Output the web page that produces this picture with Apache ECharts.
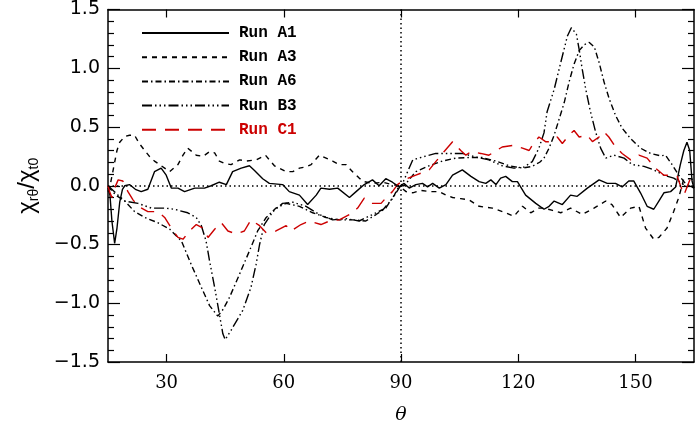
<!DOCTYPE html>
<html>
<head>
<meta charset="utf-8">
<script src="https://cdn.jsdelivr.net/npm/echarts@6/dist/echarts.min.js"></script>
<style>html,body{margin:0;padding:0;background:#fff}#chart{width:695px;height:430px}</style>
</head>
<body>
<div id="chart"></div>
<script>
// theta grid and values for each run
var xTicks = [30, 60, 90, 120, 150];

var thetaA1 = [15.0,15.5,16.0,16.7,17.3,18.0,18.7,19.3,20.5,22.0,23.5,25.2,26.9,28.6,29.9,31.2,32.9,34.6,37.2,39.7,41.4,43.5,45.3,46.9,49.1,51.2,52.5,54.6,56.3,59.7,61.4,64.0,66.1,68.3,69.5,71.7,73.8,76.8,78.5,80.6,82.7,84.4,86.1,87.8,89.5,90.8,92.1,93.8,95.5,96.8,98.1,99.8,101.5,103.2,105.7,107.9,110.0,111.7,113.0,114.3,115.5,116.8,118.5,119.8,121.9,124.5,126.6,127.9,129.2,131.3,133.4,135.1,137.7,140.7,142.8,144.9,146.6,148.3,149.6,151.3,153.0,154.7,156.0,157.3,159.0,160.3,161.5,162.4,163.2,163.9,164.5,165.0];
var valA1 = [-0.02,-0.08,-0.30,-0.49,-0.36,-0.14,-0.03,0.00,0.01,-0.03,-0.05,-0.03,0.12,0.15,0.09,-0.02,-0.02,-0.05,-0.02,-0.02,0.00,0.03,0.01,0.12,0.15,0.17,0.13,0.06,0.02,0.01,-0.05,-0.08,-0.16,-0.08,-0.02,-0.03,-0.02,-0.10,-0.05,0.01,0.05,0.00,0.06,0.03,-0.01,0.02,-0.02,0.01,0.02,-0.01,0.02,-0.02,0.01,0.09,0.135,0.08,0.035,0.02,0.05,0.01,0.065,0.08,0.035,0.035,-0.08,-0.15,-0.20,-0.175,-0.13,-0.16,-0.08,-0.09,-0.02,0.05,0.02,0.02,-0.01,0.04,0.04,-0.06,-0.175,-0.20,-0.13,-0.06,-0.05,-0.01,0.18,0.30,0.37,0.30,0.04,-0.02];

var thetaA3 = [15.0,15.4,16.0,16.7,17.3,18.0,19.3,20.5,21.8,23.0,24.4,25.6,26.9,28.2,29.5,30.8,32.9,34.2,35.4,37.6,39.3,41.0,42.3,43.5,44.8,46.5,48.7,50.5,52.9,55.3,57.6,60.6,62.3,64.0,65.7,67.0,69.1,72.5,74.2,75.9,77.6,79.3,80.5,82.7,85.3,87.8,89.5,91.3,93.0,95.0,97.5,99.8,101.5,103.2,105.3,107.4,110.0,113.4,116.8,118.9,121.1,123.2,125.3,126.6,128.8,130.9,133.4,136.4,139.4,142.4,144.0,146.2,148.8,150.9,152.6,154.7,156.0,158.1,159.8,161.1,162.4,164.1,165.0];
var valA3 = [-0.05,-0.02,0.08,0.20,0.30,0.37,0.42,0.43,0.43,0.36,0.30,0.25,0.21,0.18,0.15,0.12,0.18,0.26,0.32,0.26,0.25,0.29,0.28,0.21,0.19,0.18,0.22,0.21,0.22,0.26,0.17,0.12,0.12,0.15,0.16,0.18,0.26,0.21,0.18,0.18,0.12,0.065,0.035,0.02,0.03,0.01,0.00,-0.05,-0.06,-0.04,-0.05,-0.05,-0.08,-0.10,-0.11,-0.12,-0.175,-0.19,-0.23,-0.26,-0.175,-0.23,-0.19,-0.19,-0.21,-0.23,-0.19,-0.245,-0.19,-0.13,-0.16,-0.27,-0.19,-0.175,-0.36,-0.455,-0.44,-0.36,-0.22,-0.10,0.06,0.06,0.05];

var thetaA6 = [15.0,15.4,17.0,19.3,21.8,24.4,27.8,30.8,33.8,36.3,38.9,41.0,43.1,44.5,46.1,48.7,51.2,53.3,55.5,58.0,60.6,64.0,67.4,70.8,74.2,77.6,81.0,83.6,86.1,88.3,89.5,90.8,93.8,97.2,100.6,104.0,107.4,110.8,114.3,117.7,121.1,123.6,125.5,126.6,127.9,129.2,130.5,131.8,133.0,134.3,135.6,136.9,138.2,139.5,140.7,142.0,143.3,144.9,146.6,148.8,151.3,153.9,156.4,157.7,159.4,161.1,162.8,164.4,165.0];
var valA6 = [0.00,-0.02,-0.08,-0.13,-0.22,-0.27,-0.315,-0.37,-0.47,-0.67,-0.865,-1.02,-1.11,-1.05,-0.95,-0.75,-0.555,-0.385,-0.27,-0.19,-0.15,-0.175,-0.23,-0.27,-0.29,-0.29,-0.30,-0.245,-0.19,-0.08,0.00,0.00,0.12,0.17,0.21,0.235,0.24,0.24,0.21,0.17,0.15,0.165,0.20,0.235,0.32,0.43,0.57,0.71,0.88,1.035,1.15,1.20,1.22,1.18,1.05,0.88,0.74,0.60,0.49,0.40,0.32,0.275,0.255,0.26,0.18,0.09,0.02,-0.01,-0.02];

var thetaB3 = [15.0,15.4,17.6,19.3,22.7,26.1,29.5,32.0,35.4,37.6,38.9,40.1,41.0,42.3,43.5,44.4,45.0,46.5,49.5,51.6,52.9,53.8,55.0,57.2,59.7,62.3,65.7,69.1,72.5,75.9,79.3,82.7,85.5,87.8,89.5,90.4,93.0,95.5,98.9,102.3,105.7,109.1,112.5,115.9,118.9,121.5,123.6,125.3,126.6,127.4,129.2,130.9,132.6,133.6,134.1,134.9,135.6,136.4,137.3,138.5,139.8,141.1,142.4,144.5,147.1,149.2,152.2,154.7,157.3,159.8,161.5,163.2,165.0];
var valB3 = [0.00,-0.01,-0.08,-0.13,-0.15,-0.19,-0.19,-0.20,-0.23,-0.27,-0.34,-0.47,-0.64,-0.865,-1.09,-1.26,-1.31,-1.23,-1.06,-0.865,-0.67,-0.50,-0.33,-0.22,-0.15,-0.14,-0.175,-0.245,-0.29,-0.28,-0.30,-0.245,-0.20,-0.11,-0.02,0.02,0.22,0.245,0.275,0.275,0.275,0.245,0.22,0.17,0.15,0.16,0.205,0.32,0.45,0.63,0.82,1.05,1.275,1.345,1.36,1.29,1.16,0.99,0.82,0.63,0.46,0.32,0.235,0.26,0.235,0.18,0.165,0.135,0.09,0.065,0.03,-0.01,0.00];

var thetaC1 = [15.0,15.4,16.0,16.7,17.6,18.8,20.1,21.4,22.7,25.2,27.8,29.5,31.2,32.9,34.2,35.9,37.6,39.3,40.6,42.3,44.0,45.7,47.8,49.9,51.6,53.8,55.5,58.0,60.6,61.9,64.4,66.5,69.5,71.7,74.2,76.8,78.9,80.6,82.7,84.9,86.1,87.8,89.1,90.8,93.8,97.2,98.9,101.0,103.2,105.3,106.6,107.9,110.4,112.5,115.9,118.9,121.1,122.8,123.6,125.3,127.0,128.0,130.0,131.3,133.0,134.3,135.6,137.7,139.0,140.7,141.9,143.2,144.9,146.6,148.8,150.9,153.0,155.1,157.3,159.4,160.7,162.4,164.1,165.0];
var valC1 = [0.00,-0.05,-0.10,-0.02,0.05,0.04,-0.05,-0.12,-0.175,-0.22,-0.22,-0.27,-0.36,-0.44,-0.455,-0.385,-0.33,-0.36,-0.44,-0.37,-0.315,-0.385,-0.41,-0.385,-0.29,-0.34,-0.40,-0.385,-0.34,-0.385,-0.33,-0.30,-0.33,-0.30,-0.29,-0.245,-0.19,-0.105,-0.15,-0.15,-0.105,-0.05,0.01,0.05,0.09,0.135,0.205,0.29,0.375,0.30,0.26,0.29,0.275,0.26,0.33,0.345,0.32,0.30,0.345,0.415,0.375,0.375,0.415,0.36,0.43,0.47,0.415,0.43,0.375,0.415,0.46,0.415,0.33,0.275,0.22,0.26,0.235,0.15,0.09,0.09,0.08,-0.08,0.065,0.08];

var runNames = ['Run A1', 'Run A3', 'Run A6', 'Run B3', 'Run C1'];
var red = '#cc0000';

function pairs(t, v) {
    return t.map(function (x, i) { return [x, v[i]]; });
}

var myChart = echarts.init(document.getElementById('chart'));

function runSeries(name, t, v, color, dash) {
    return {
        name: name,
        type: 'line',
        data: pairs(t, v),
        symbol: 'none',
        smooth: false,
        animation: false,
        clip: true,
        itemStyle: { color: color },
        lineStyle: { color: color, width: 1.4, type: dash }
    };
}

var tickStyle = { color: '#000', width: 1.2 };
var lineStyleAxis = { color: '#000', width: 1.5 };

var series = [
    runSeries(runNames[0], thetaA1, valA1, '#000', 'solid'),
    runSeries(runNames[1], thetaA3, valA3, '#000', [5, 5]),
    runSeries(runNames[2], thetaA6, valA6, '#000', [6, 3, 1.5, 3]),
    runSeries(runNames[3], thetaB3, valB3, '#000', [10, 3, 1.5, 3, 1.5, 3, 1.5, 3]),
    runSeries(runNames[4], thetaC1, valC1, red, [14, 9])
];
// dotted reference lines at 0 and 90
series[0].markLine = {
    silent: true,
    symbol: 'none',
    animation: false,
    label: { show: false },
    lineStyle: { color: '#000', width: 1.5, type: [1.5, 3] },
    data: [{ yAxis: 0 }, { xAxis: 90 }]
};

option = {
    backgroundColor: '#fff',
    animation: false,
    grid: { left: 108, right: 1, top: 7, bottom: 68 },
    legend: {
        orient: 'vertical',
        left: 141,
        top: 25,
        padding: 0,
        itemWidth: 87,
        itemHeight: 14,
        itemGap: 8.2,
        itemStyle: { opacity: 0 },
        textStyle: { fontFamily: 'Liberation Mono', fontWeight: 'bold', fontSize: 16, color: '#000', padding: [0, 0, 0, 5] },
        data: [
            { name: runNames[0] },
            { name: runNames[1] },
            { name: runNames[2] },
            { name: runNames[3] },
            { name: runNames[4], textStyle: { color: red } }
        ]
    },
    xAxis: [{
        type: 'value', min: 15, max: 165, position: 'bottom',
        axisLine: { show: true, onZero: false, lineStyle: lineStyleAxis },
        axisTick: { show: true, inside: true, length: 8, customValues: xTicks, lineStyle: tickStyle },
        axisLabel: { customValues: xTicks, color: '#000', fontFamily: 'DejaVu Serif', fontSize: 18, margin: 12 },
        splitLine: { show: false },
        name: 'θ', nameLocation: 'middle', nameGap: 44,
        nameTextStyle: { fontFamily: 'DejaVu Serif', fontStyle: 'italic', fontSize: 19, color: '#000' }
    }, {
        type: 'value', min: 15, max: 165, position: 'top',
        axisLine: { show: true, onZero: false, lineStyle: lineStyleAxis },
        axisTick: { show: true, inside: true, length: 8, customValues: xTicks, lineStyle: tickStyle },
        axisLabel: { show: false },
        splitLine: { show: false }
    }],
    yAxis: [{
        type: 'value', min: -1.5, max: 1.5, interval: 0.5, position: 'left',
        axisLine: { show: true, onZero: false, lineStyle: lineStyleAxis },
        axisTick: { show: true, inside: true, length: 12, lineStyle: tickStyle },
        minorTick: { show: true, splitNumber: 5, length: 6, lineStyle: tickStyle },
        axisLabel: {
            color: '#000', fontFamily: 'DejaVu Sans', fontSize: 19, margin: 8,
            formatter: function (v) { return v.toFixed(1).replace('-', '\u2212'); }
        },
        splitLine: { show: false },
        name: '{c|χ}{s|rθ}{c|/χ}{s|t0}', nameLocation: 'middle', nameRotate: 90, nameGap: 67,
        nameTextStyle: {
            color: '#000',
            rich: {
                c: { fontFamily: 'Liberation Sans', fontSize: 24, color: '#000' },
                s: { fontFamily: 'Liberation Sans', fontSize: 14, color: '#000', padding: [14, 0, 0, 0] }
            }
        }
    }, {
        type: 'value', min: -1.5, max: 1.5, interval: 0.5, position: 'right',
        axisLine: { show: true, onZero: false, lineStyle: lineStyleAxis },
        axisTick: { show: true, inside: true, length: 12, lineStyle: tickStyle },
        minorTick: { show: true, splitNumber: 5, length: 6, lineStyle: tickStyle },
        axisLabel: { show: false },
        splitLine: { show: false }
    }],
    series: series
};

myChart.setOption(option);
</script>
</body>
</html>
